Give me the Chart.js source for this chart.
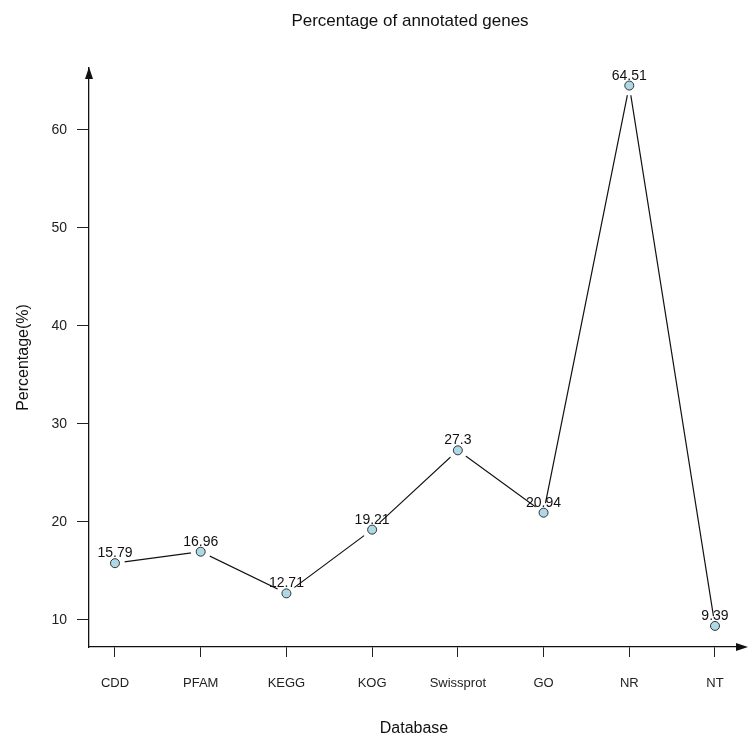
<!DOCTYPE html>
<html>
<head>
<meta charset="utf-8">
<script src="https://cdn.jsdelivr.net/npm/chart.js@4.4.1/dist/chart.umd.min.js"></script>
<style>
  html, body { margin: 0; padding: 0; background: #fff; }
  #wrap { width: 749px; height: 746px; }
</style>
</head>
<body>
<div id="wrap"><canvas id="chart"></canvas></div>
<script>
const databases = ['CDD', 'PFAM', 'KEGG', 'KOG', 'Swissprot', 'GO', 'NR', 'NT'];
const percentages = [15.79, 16.96, 12.71, 19.21, 27.3, 20.94, 64.51, 9.39];
const yTicks = [10, 20, 30, 40, 50, 60];

const fontFamily = 'Arial, "Liberation Sans", sans-serif';
const points = percentages.map((v, i) => ({ x: i + 1, y: v }));

// arrows on axes, value labels and the title
const extras = {
  id: 'extras',
  afterDraw(chart) {
    const ctx = chart.ctx;
    const area = chart.chartArea;
    const xEnd = 748;
    ctx.save();
    // x axis runs on past the plot area up to the arrow
    ctx.strokeStyle = '#111';
    ctx.lineWidth = 1.3;
    ctx.beginPath();
    ctx.moveTo(area.right - 1, area.bottom);
    ctx.lineTo(xEnd - 6, area.bottom);
    ctx.stroke();

    ctx.fillStyle = '#111';
    ctx.beginPath();
    ctx.moveTo(area.left, area.top - 1);
    ctx.lineTo(area.left - 4, area.top + 11);
    ctx.lineTo(area.left + 4, area.top + 11);
    ctx.closePath();
    ctx.fill();
    ctx.beginPath();
    ctx.moveTo(xEnd, area.bottom);
    ctx.lineTo(xEnd - 12, area.bottom - 4);
    ctx.lineTo(xEnd - 12, area.bottom + 4);
    ctx.closePath();
    ctx.fill();

    const meta = chart.getDatasetMeta(2);
    ctx.font = '14px ' + fontFamily;
    ctx.textAlign = 'center';
    ctx.textBaseline = 'alphabetic';
    meta.data.forEach((pt, i) => {
      ctx.fillText(String(percentages[i]), pt.x, pt.y - 6);
    });

    ctx.font = '17px ' + fontFamily;
    ctx.fillText('Percentage of annotated genes', 410, 26);
    ctx.restore();
  }
};

new Chart(document.getElementById('chart'), {
  type: 'scatter',
  data: {
    datasets: [
      {
        data: points,
        showLine: true,
        borderColor: '#111',
        borderWidth: 1.2,
        pointRadius: 0,
        order: 3
      },
      {
        // white halo so the line stops short of each point
        data: points,
        showLine: false,
        pointRadius: 10,
        pointBackgroundColor: '#fff',
        pointBorderWidth: 0,
        order: 2
      },
      {
        data: points,
        showLine: false,
        pointRadius: 4.5,
        pointBackgroundColor: '#add8e6',
        pointBorderColor: '#333',
        pointBorderWidth: 1,
        order: 1
      }
    ]
  },
  options: {
    responsive: true,
    maintainAspectRatio: false,
    animation: false,
    layout: { padding: { top: 68, right: 1, left: 0, bottom: 0 } },
    plugins: {
      legend: { display: false },
      tooltip: { enabled: false }
    },
    scales: {
      x: {
        type: 'linear',
        position: 'bottom',
        min: 0.697,
        max: 8.28,
        afterBuildTicks: function(axis) {
          axis.ticks = databases.map((_, i) => ({ value: i + 1 }));
        },
        afterFit: function(scale) { scale.height = 99; },
        ticks: {
          callback: function(value) { return databases[value - 1]; },
          font: { size: 13, family: fontFamily },
          color: '#222',
          padding: 19,
          maxRotation: 0,
          autoSkip: false
        },
        grid: { display: true, drawOnChartArea: false, drawTicks: true, tickLength: 10, color: '#222' },
        border: { display: true, color: '#111', width: 1.3 },
        title: {
          display: true,
          text: 'Database',
          font: { size: 16, family: fontFamily },
          color: '#111',
          padding: { top: 0, bottom: 8 }
        }
      },
      y: {
        type: 'linear',
        min: 7.24,
        max: 66.3,
        afterBuildTicks: function(axis) {
          axis.ticks = yTicks.map(v => ({ value: v }));
        },
        afterFit: function(scale) { scale.width = 89; },
        ticks: {
          font: { size: 14, family: fontFamily },
          color: '#222',
          padding: 10
        },
        grid: { display: true, drawOnChartArea: false, drawTicks: true, tickLength: 12, color: '#222' },
        border: { display: true, color: '#111', width: 1.3 },
        title: {
          display: true,
          text: 'Percentage(%)',
          font: { size: 16, family: fontFamily },
          color: '#111',
          padding: { top: 14, bottom: 0 }
        }
      }
    }
  },
  plugins: [extras]
});
</script>
</body>
</html>
